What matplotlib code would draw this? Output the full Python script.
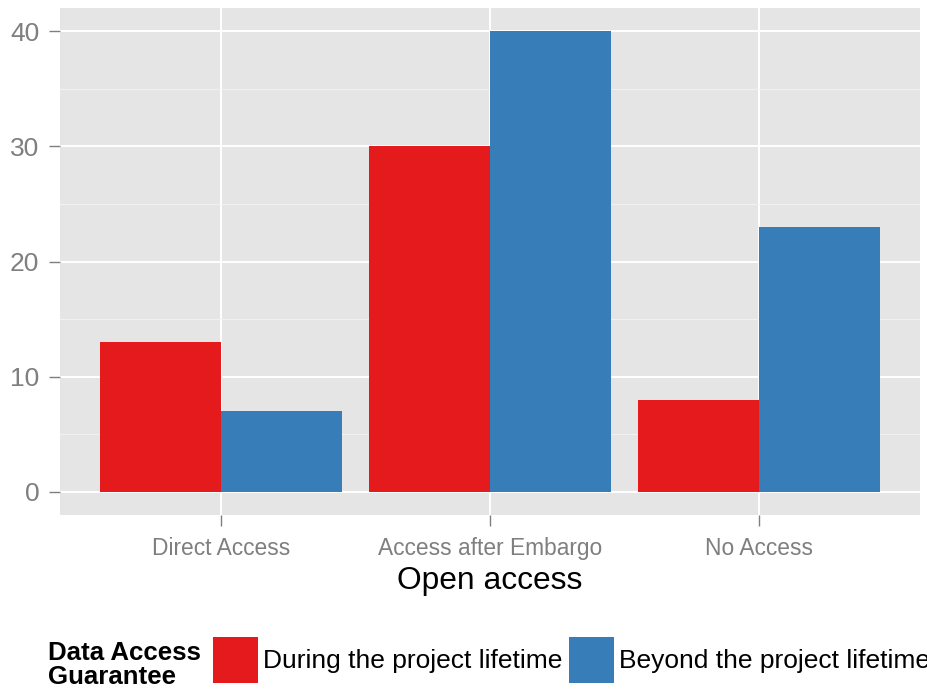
""" Grouped bar chart of open access vs. data access guarantee, ggplot-like style. """

import numpy as np
import matplotlib
matplotlib.use('Agg')
import matplotlib.pyplot as plt
from matplotlib.ticker import MultipleLocator

# Data
categories = ['Direct Access', 'Access after Embargo', 'No Access']
during_lifetime = [13, 30, 8]
beyond_lifetime = [7, 40, 23]
series_labels = ['During the project lifetime', 'Beyond the project lifetime']
series_colors = ['#E41A1C', '#377EB8']
y_ticks = [0, 10, 20, 30, 40]

# Figure
fig = plt.figure(figsize=(9.28, 6.95), dpi=100)
ax = fig.add_axes([60 / 928, 1 - 515 / 695, 860 / 928, 507 / 695])
ax.set_facecolor('#E5E5E5')

x = np.arange(len(categories))
width = 0.45
bars1 = ax.bar(x - width / 2, during_lifetime, width, color=series_colors[0], zorder=3)
bars2 = ax.bar(x + width / 2, beyond_lifetime, width, color=series_colors[1], zorder=3)

# Axis limits with ggplot-style expansion
ax.set_xlim(-0.6, len(categories) - 0.4)
ax.set_ylim(-2, 42)

# Grid
ax.set_xticks(x)
ax.set_xticklabels(categories)
ax.set_yticks(y_ticks)
ax.yaxis.set_minor_locator(MultipleLocator(5))
ax.grid(which='major', color='white', linewidth=1.4, zorder=1)
ax.grid(which='minor', axis='y', color='#F2F2F2', linewidth=0.7, zorder=1)
ax.set_axisbelow(True)

for spine in ax.spines.values():
    spine.set_visible(False)

ax.tick_params(axis='both', which='major', direction='out', length=8, width=1,
               color='#7F7F7F', labelcolor='#7F7F7F')
ax.tick_params(axis='x', which='major', pad=7.5)
ax.tick_params(axis='y', which='major', pad=7)
ax.tick_params(axis='y', which='minor', length=0)
for lbl in ax.get_xticklabels():
    lbl.set_fontfamily('Liberation Sans')
    lbl.set_fontsize(16.4)
for lbl in ax.get_yticklabels():
    lbl.set_fontfamily('Liberation Sans')
    lbl.set_fontsize(19)

ax.set_xlabel('Open access', fontsize=22.9, family='Liberation Sans', labelpad=5)

# Legend at the bottom with the title on the left
fig.text(48 / 928, 1 - 665 / 695, 'Data Access\nGuarantee', fontsize=18.6, fontweight='bold',
         family='Liberation Sans', va='center', ha='left', linespacing=0.95)
fig.legend([bars1, bars2], series_labels, loc='center left',
           bbox_to_anchor=(213 / 928, 1 - 660 / 695), ncol=2, frameon=False,
           prop={'family': 'Liberation Sans', 'size': 19},
           handlelength=1.7, handleheight=2.3, handletextpad=0.19, columnspacing=0.27,
           borderaxespad=0, borderpad=0)

plt.savefig('out.png', dpi=100)
